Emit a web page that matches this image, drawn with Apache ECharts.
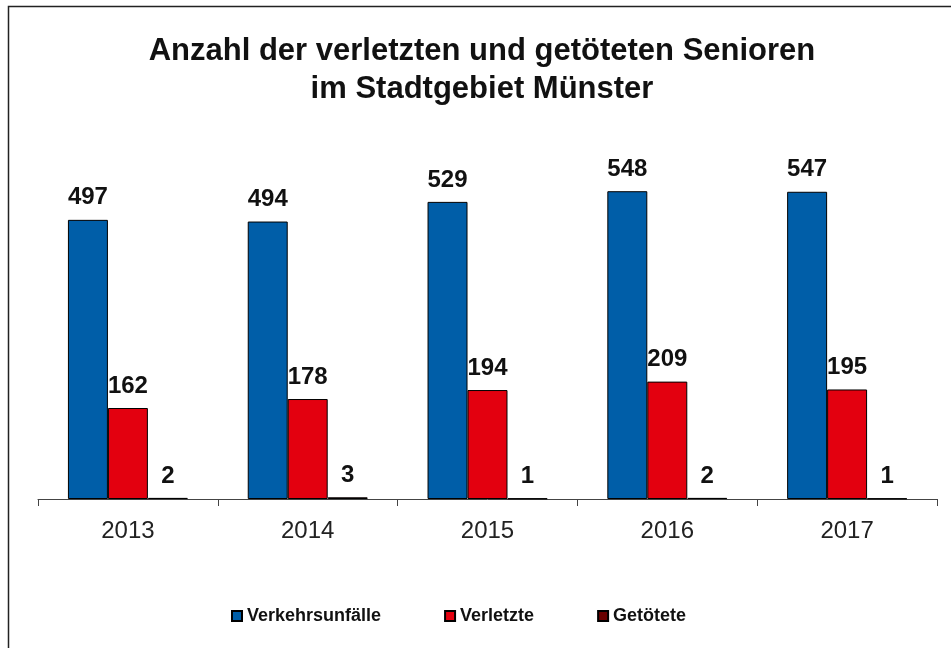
<!DOCTYPE html>
<html>
<head>
<meta charset="utf-8">
<script src="https://cdn.jsdelivr.net/npm/echarts@6/dist/echarts.min.js"></script>
<style>
html, body { margin: 0; padding: 0; background: #fff; }
#chart { width: 951px; height: 648px; }
</style>
</head>
<body>
<div id="chart"></div>
<script>
var years = ['2013', '2014', '2015', '2016', '2017'];
var unfaelle = [497, 494, 529, 548, 547];
var verletzte = [162, 178, 194, 209, 195];
var getoetete = [2, 3, 1, 2, 1];

var fontFam = "'Liberation Sans', Arial, sans-serif";

function barSeries(name, data, color) {
    return {
        name: name,
        type: 'bar',
        data: data,
        barGap: '0%',
        barCategoryGap: '33.3%',
        itemStyle: { color: color, borderColor: '#000', borderWidth: 1 },
        label: {
            show: true,
            position: 'top',
            distance: 10,
            color: '#111',
            fontFamily: fontFam,
            fontWeight: 'bold',
            fontSize: 24
        }
    };
}

var chart = echarts.init(document.getElementById('chart'));
var option = {
    animation: false,
    title: {
        text: 'Anzahl der verletzten und getöteten Senioren\nim Stadtgebiet Münster',
        left: 477,
        top: 27,
        textAlign: 'center',
        textStyle: {
            fontFamily: fontFam,
            fontWeight: 'bold',
            fontSize: 31,
            lineHeight: 38,
            color: '#111'
        }
    },
    legend: {
        left: 226,
        top: 602,
        itemGap: 63,
        itemWidth: 10,
        itemHeight: 10,
        icon: 'rect',
        textStyle: {
            fontFamily: fontFam,
            fontWeight: 'bold',
            fontSize: 18,
            color: '#111'
        }
    },
    grid: { left: 38, right: 14, top: 162, bottom: 149 },
    xAxis: {
        type: 'category',
        data: years,
        axisLine: { lineStyle: { color: '#444', width: 1 } },
        axisTick: { show: true, length: 7, lineStyle: { color: '#444' } },
        axisLabel: {
            margin: 20,
            fontFamily: fontFam,
            fontSize: 24,
            color: '#222'
        }
    },
    yAxis: {
        type: 'value',
        min: 0,
        max: 600,
        show: false
    },
    series: [
        barSeries('Verkehrsunfälle', unfaelle, '#005ea8'),
        barSeries('Verletzte', verletzte, '#e3000f'),
        barSeries('Getötete', getoetete, '#6a0000')
    ],
    graphic: [{
        type: 'rect',
        shape: { x: 8.5, y: 6.5, width: 1200, height: 1200 },
        style: { fill: 'none', stroke: '#222', lineWidth: 1.5 },
        silent: true
    }]
};
chart.setOption(option);
</script>
</body>
</html>
